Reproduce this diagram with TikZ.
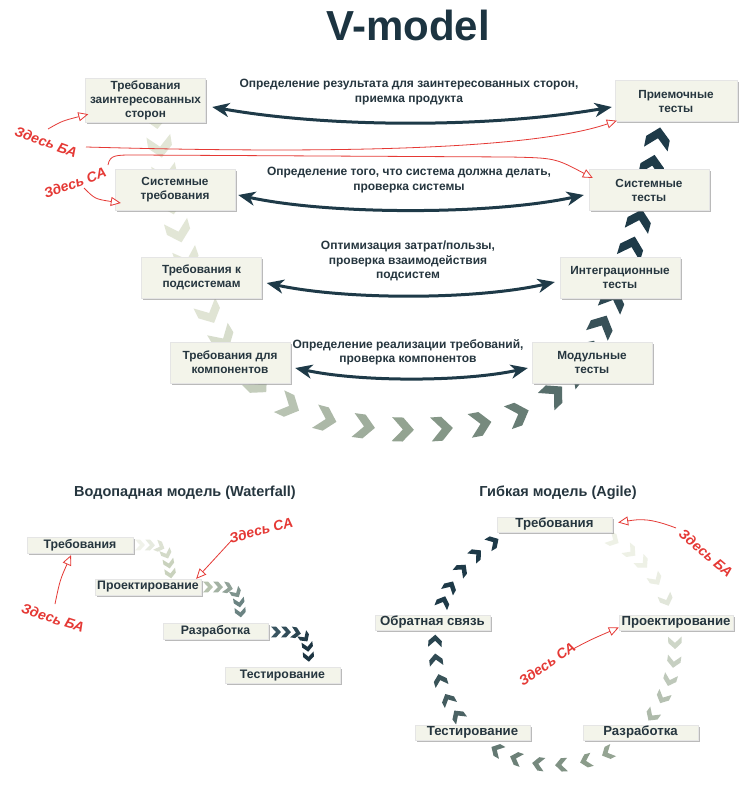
\documentclass[tikz,border=0pt]{standalone}
\usepackage{fontspec}
\setmainfont{Liberation Sans}
\usetikzlibrary{arrows.meta,decorations.markings,shadows}
\definecolor{vdark}{HTML}{1E3A48}
\definecolor{vmid}{HTML}{8C9D8B}
\definecolor{vlight}{HTML}{E2E6D6}
\definecolor{alight}{HTML}{EEF1E6}
\definecolor{txt}{HTML}{26363F}
\definecolor{boxfill}{HTML}{F3F4EA}
\definecolor{redann}{HTML}{E53935}
\definecolor{wfa}{HTML}{F0F2EA}
\definecolor{wfb}{HTML}{C9D2BD}
\definecolor{wfc}{HTML}{B6C2AE}
\definecolor{wfd}{HTML}{6B8382}
\definecolor{wfe}{HTML}{3A5561}
\definecolor{wff}{HTML}{1C3441}
\newcommand\setgrad[7]{%
  \pgfmathsetmacro\gA{max(0,min(100,100*((#1)-(#5))/((#6)-(#5))))}%
  \pgfmathsetmacro\gB{max(0,min(100,100*((#1)-(#6))/((#7)-(#6))))}%
  \colorlet{gtmp}{#3!\gA!#2}\colorlet{cc}{#4!\gB!gtmp}}
\tikzset{
  shad/.style={drop shadow={shadow xshift=1.5pt,shadow yshift=-1.5pt,fill=black!45,opacity=0.6}},
  vbox/.style={shad,fill=boxfill,draw=black!10,minimum width=120pt,minimum height=41pt,align=center,text=txt,font=\bfseries\fontsize{11.8}{14}\selectfont,inner sep=1pt},
  sbox/.style={shad,fill=boxfill,draw=black!10,minimum width=106pt,minimum height=16pt,text=txt,font=\bfseries\fontsize{12.3}{14}\selectfont,inner sep=1pt},
  abox/.style={sbox,minimum width=115pt,minimum height=15pt,font=\bfseries\fontsize{13.2}{14}\selectfont},
  biga/.style={draw=vdark,line width=3pt,{Stealth[length=17pt,width=14pt,inset=5pt]}-{Stealth[length=17pt,width=14pt,inset=5pt]}},
  lbl/.style={text=txt,align=center,font=\bfseries\fontsize{12}{14.2}\selectfont},
  ann/.style={text=redann,font=\bfseries\itshape\fontsize{14}{16}\selectfont,inner sep=0pt},
  redl/.style={draw=redann,line width=0.8pt,-{Triangle[length=10pt,width=9pt,fill=white]}},
  heading/.style={text=txt,font=\bfseries\fontsize{14.5}{17}\selectfont},
  wfchain/.style 2 args={decoration={markings,mark=between positions 0 and 1 step 10pt with {%
    \pgfmathsetmacro\vt{(\pgfkeysvalueof{/pgf/decoration/mark info/sequence number}-1)/4}%
    \setgrad{\vt}{#1}{#2}{#2}{0}{1}{2}%
    \fill[cc,scale=0.45] (-11pt,12pt) -- (0pt,12pt) -- (11pt,0pt) -- (0pt,-12pt) -- (-11pt,-12pt) -- (0pt,0pt) -- cycle;}},decorate},
  vchain/.style n args={3}{decoration={markings,mark=between positions #1 and 1 step #2 with {%
    \pgfmathsetmacro\vt{(#3+(\pgfkeysvalueof{/pgf/decoration/mark info/sequence number}-1)*#2)/895}%
    \setgrad{\vt}{vlight}{vmid}{vdark}{0.22}{0.52}{0.85}%
    \fill[cc] (-11pt,12pt) -- (0pt,12pt) -- (11pt,0pt) -- (0pt,-12pt) -- (-11pt,-12pt) -- (0pt,0pt) -- cycle;}},decorate}
}
\begin{document}
\begin{tikzpicture}[x=1pt,y=1pt]
\useasboundingbox[fill=white] (0,0) rectangle (745,-792);

% title
\node[text=wff,font=\bfseries\fontsize{42}{46}\selectfont] (title) at (408,-25) {V-model};

% V chevrons
\path[vchain={0pt}{29pt}{0}] (156,-118) .. controls (170,-230) and (205,-340) .. (270,-395);
\path[vchain={22pt}{39pt}{327}] (270,-395) .. controls (335,-440) and (480,-440) .. (545,-402);
\path[vchain={12pt}{28pt}{607}] (545,-402) .. controls (610,-350) and (640,-230) .. (660,-128);

% V boxes
\node[vbox,minimum height=44pt] (b1) at (145.5,-100) {Требования\\заинтересованных\\сторон};
\node[vbox,minimum width=122pt] (b2) at (676,-101) {Приемочные\\тесты};
\node[vbox] (b3) at (175,-190) {Системные\\требования};
\node[vbox] (b4) at (649,-190) {Системные\\тесты};
\node[vbox] (b5) at (201.5,-277.5) {Требования к\\подсистемам};
\node[vbox] (b6) at (620,-277.5) {Интеграционные\\тесты};
\node[vbox] (b7) at (230,-362.5) {Требования для\\компонентов};
\node[vbox] (b8) at (592,-362.5) {Модульные\\тесты};

% V labels
\node[lbl] (l1) at (409,-92) {Определение результата для заинтересованных сторон,\\приемка продукта};
\node[lbl] (l2) at (409,-180) {Определение того, что система должна делать,\\проверка системы};
\node[lbl] (l3) at (408,-261) {Оптимизация затрат/пользы,\\проверка взаимодействия\\подсистем};
\node[lbl] (l4) at (408,-352) {Определение реализации требований,\\проверка компонентов};

% double arrows
\draw[biga] ([shift={(6.5,-7)}]b1.east) .. controls +(118,-21) and +(-122,-21) .. ([shift={(-3,-6)}]b2.west);
\draw[biga] ([shift={(3,-5)}]b3.east) .. controls +(92,-20) and +(-93,-20) .. ([shift={(-5,-5)}]b4.west);
\draw[biga] ([shift={(5,-5.5)}]b5.east) .. controls +(80,-17) and +(-80,-18) .. ([shift={(-5,-4.5)}]b6.west);
\draw[biga] ([shift={(5,-5.5)}]b7.east) .. controls +(65,-14) and +(-65,-14) .. ([shift={(-4,-5.5)}]b8.west);

% red annotations V
\node[ann,rotate=-20] (ba1) at (46,-142) {Здесь БА};
\node[ann,rotate=20] (sa1) at (75,-183) {Здесь СА};
\coordinate (r1) at (48,-129);
\coordinate (r2) at (86,-147);
\coordinate (r3) at (108,-165);
\coordinate (r4) at (84,-188);
\draw[redl] (r1) .. controls (62,-121) .. ([shift={(3,8)}]b1.south west);
\draw[redl] (r2) .. controls (300,-153) and (525,-152) .. ([shift={(2,1)}]b2.south west);
\draw[redl] (r3) .. controls (110,-155) and (115,-155) .. (135,-155) -- (510,-157) .. controls (555,-158) .. ([shift={(4,12)}]b4.west);
\draw[redl] (r4) .. controls (95,-199) .. ([shift={(6,-13)}]b3.west);

% headings
\node[heading] (hw) at (185,-493) {Водопадная модель (Waterfall)};
\node[heading] (ha) at (558,-493) {Гибкая модель (Agile)};

% waterfall chevrons
\path[wfchain={wfa}{wfb}] (140,-545) .. controls (166,-545) .. (171,-577);
\path[wfchain={wfc}{wfd}] (208,-587) .. controls (238,-587) .. (241,-619);
\path[wfchain={wfe}{wff}] (276,-632) .. controls (307,-632) .. (309,-664);

% waterfall boxes
\node[sbox] (w1) at (80,-545) {Требования};
\node[sbox] (w2) at (148,-587) {Проектирование};
\node[sbox,minimum width=105pt] (w3) at (215.5,-631.5) {Разработка};
\node[sbox,minimum width=115pt] (w4) at (282.5,-675.5) {Тестирование};

% waterfall red
\node[ann,rotate=15] (sa2) at (261,-530) {Здесь СА};
\node[ann,rotate=-18] (ba2) at (53,-618) {Здесь БА};
\coordinate (r5) at (231,-541);
\coordinate (r6) at (55,-604);
\draw[redl] (r5) -- ([shift={(-5,0)}]w2.north east);
\draw[redl] (r6) .. controls (60,-580) .. ([shift={(-9,-2)}]w1.south);

% agile chevrons
\foreach \a in {61,51,43,33,22,1,-8,-17,-26,-36,-64,-75,-87,-98,-109,-119,-144,-153,-163,-173,-182,-201,-209,-219,-229,-239} {
  \pgfmathsetmacro\pp{(61-\a)/300}
  \setgrad{\pp}{alight}{vmid}{vdark}{0.08}{0.45}{0.85}
  \pgfmathsetmacro\cx{555+120*cos(\a)}
  \pgfmathsetmacro\cy{-645+120*sin(\a)}
  \fill[cc,shift={(\cx pt,\cy pt)},rotate=\a-90,scale=0.56] (-11pt,12pt) -- (0pt,12pt) -- (11pt,0pt) -- (0pt,-12pt) -- (-11pt,-12pt) -- (0pt,0pt) -- cycle;
}

% agile boxes
\node[abox] (a1) at (554.5,-524.5) {Требования};
\node[abox,minimum width=114pt] (a2) at (676,-622.5) {Проектирование};
\node[abox] (a3) at (432.5,-622.5) {Обратная связь};
\node[abox] (a4) at (472.5,-732.5) {Тестирование};
\node[abox] (a5) at (640.5,-732.5) {Разработка};

% agile red
\node[ann,rotate=-40] (ba3) at (706,-553) {Здесь БА};
\node[ann,rotate=35] (sa3) at (547,-664) {Здесь СА};
\coordinate (r7) at (676,-528);
\coordinate (r8) at (573,-649);
\draw[redl] (r7) .. controls (650,-518) and (640,-519) .. ([shift={(6,2)}]a1.east);
\draw[redl] (r8) .. controls (590,-640) .. ([shift={(0,-5)}]a2.west);
\end{tikzpicture}
\end{document}
